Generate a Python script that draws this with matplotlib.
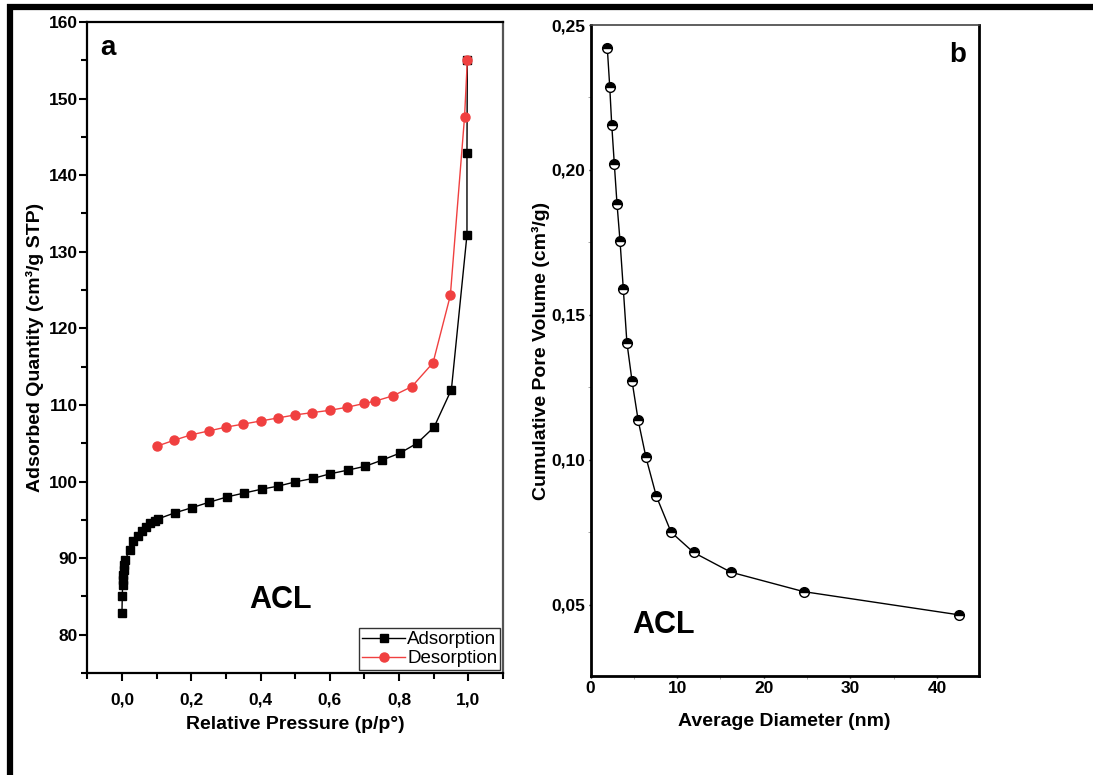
import matplotlib
matplotlib.use("Agg")
import matplotlib.pyplot as plt
from matplotlib.lines import Line2D
from matplotlib.ticker import MultipleLocator, FuncFormatter

plt.rcParams['font.family'] = ['Liberation Sans', 'DejaVu Sans']

# ---- panel a: N2 isotherm -------------------------------------------------
ads_p = [0.0, 0.001, 0.002, 0.003, 0.004, 0.005, 0.006, 0.008,
         0.022, 0.033, 0.045, 0.058, 0.069, 0.082, 0.094, 0.103,
         0.152, 0.203, 0.252, 0.304, 0.353, 0.403, 0.451, 0.500,
         0.551, 0.600, 0.653, 0.703, 0.751, 0.802, 0.852, 0.901,
         0.951, 0.996, 0.996, 0.997]
ads_q = [82.8, 85.1, 86.5, 87.1, 87.8, 88.4, 89.1, 89.7,
         91.0, 92.2, 92.9, 93.6, 94.1, 94.6, 94.9, 95.1,
         95.9, 96.6, 97.3, 98.0, 98.5, 99.0, 99.4, 99.95,
         100.4, 101.0, 101.5, 102.0, 102.8, 103.7, 105.0, 107.1,
         112.0, 132.2, 142.9, 155.0]

des_p = [0.100, 0.151, 0.200, 0.250, 0.300, 0.350, 0.400, 0.450,
         0.500, 0.550, 0.600, 0.650, 0.700, 0.731, 0.783, 0.837,
         0.898, 0.948, 0.989, 0.997]
des_q = [104.6, 105.4, 106.1, 106.6, 107.1, 107.5, 107.9, 108.3,
         108.7, 109.0, 109.3, 109.7, 110.2, 110.5, 111.2, 112.4,
         115.5, 124.3, 147.6, 155.0]

# ---- panel b: cumulative pore volume -------------------------------------
diam = [1.94, 2.22, 2.45, 2.75, 3.06, 3.41, 3.79, 4.2, 4.8, 5.5,
        6.4, 7.6, 9.3, 11.9, 16.2, 24.6, 42.5]
pore_vol = [0.242, 0.2287, 0.2156, 0.2020, 0.1883, 0.1754, 0.1588,
            0.1405, 0.1271, 0.1137, 0.1009, 0.0875, 0.0751, 0.0681,
            0.0613, 0.0546, 0.0466]

W, H = 1093, 775
fig = plt.figure(figsize=(W / 100, H / 100), dpi=100)
fig.patch.set_facecolor('white')


def comma(fmt):
    return FuncFormatter(lambda v, pos: (fmt % v).replace('.', ','))


###############################################################################
# panel a

ax_a = fig.add_axes([87.3 / W, 1 - 673 / H, 415.7 / W, 651 / H])
ax_a.plot(ads_p, ads_q, color='black', lw=1.0, marker='s', ms=6,
          mfc='black', mec='black', label='Adsorption', zorder=3)
ax_a.plot(des_p, des_q, color='#f04040', lw=1.0, marker='o', ms=6.5,
          mfc='#f04040', mec='#f04040', label='Desorption', zorder=4)
ax_a.set_xlim(-0.1, 1.1)
ax_a.set_ylim(75, 160)
ax_a.xaxis.set_major_locator(MultipleLocator(0.2))
ax_a.xaxis.set_minor_locator(MultipleLocator(0.1))
ax_a.yaxis.set_major_locator(MultipleLocator(10))
ax_a.yaxis.set_minor_locator(MultipleLocator(5))
ax_a.xaxis.set_major_formatter(comma('%.1f'))
ax_a.yaxis.set_major_formatter(FuncFormatter(lambda v, pos: '%d' % v))
ax_a.tick_params(which='major', direction='out', length=6, width=1.5,
                 labelsize=12.5, pad=8)
ax_a.tick_params(which='minor', direction='out', length=4, width=1.5)
ax_a.tick_params(axis='y', pad=1)
for lbl in ax_a.get_xticklabels() + ax_a.get_yticklabels():
    lbl.set_fontweight('bold')
for side in ['left', 'bottom', 'top']:
    ax_a.spines[side].set_linewidth(1.6)
ax_a.spines['right'].set_color('#555555')
ax_a.spines['right'].set_linewidth(1.6)
ax_a.set_xlabel('Relative Pressure (p/p°)', fontsize=14, fontweight='bold',
                labelpad=6)
ax_a.set_ylabel('Adsorbed Quantity (cm³/g STP)', fontsize=14,
                fontweight='bold', labelpad=3)
ax_a.text(0.03, 0.96, 'a', transform=ax_a.transAxes, fontsize=20,
          fontweight='bold', ha='left', va='center')
ax_a.text(0.464, 0.112, 'ACL', transform=ax_a.transAxes, fontsize=22,
          fontweight='bold', ha='center', va='center')
leg = ax_a.legend(loc='lower right', fontsize=13.5, frameon=True,
                  fancybox=False, edgecolor='black', borderaxespad=0.15,
                  handlelength=2.3, handletextpad=0.1, borderpad=0.15,
                  labelspacing=0.1)
leg.get_frame().set_linewidth(1.0)

###############################################################################
# panel b

ax_b = fig.add_axes([590.5 / W, 1 - 676 / H, 388.2 / W, 651 / H])
ax_b.plot(diam, pore_vol, color='black', lw=1.0, marker='o', ms=7,
          fillstyle='top', mfc='black', mfcalt='white', mec='black',
          mew=1.0)
ax_b.set_xlim(0, 44.8)
ax_b.set_ylim(0.0255, 0.25)
ax_b.xaxis.set_major_locator(MultipleLocator(10))
ax_b.xaxis.set_minor_locator(MultipleLocator(5))
ax_b.yaxis.set_major_locator(MultipleLocator(0.05))
ax_b.yaxis.set_minor_locator(MultipleLocator(0.025))
ax_b.xaxis.set_major_formatter(FuncFormatter(lambda v, pos: '%d' % v))
ax_b.yaxis.set_major_formatter(comma('%.2f'))
ax_b.tick_params(which='major', direction='out', length=1.5, width=1,
                 labelsize=12.5, pad=2)
ax_b.tick_params(which='minor', direction='out', length=2, width=0.6,
                 color='#999999')
for lbl in ax_b.get_xticklabels() + ax_b.get_yticklabels():
    lbl.set_fontweight('bold')
for side in ['left', 'bottom', 'right']:
    ax_b.spines[side].set_linewidth(2.0)
ax_b.spines['top'].set_color('#444444')
ax_b.spines['top'].set_linewidth(1.2)
ax_b.set_xlabel('Average Diameter (nm)', fontsize=14, fontweight='bold',
                labelpad=12)
ax_b.set_ylabel('Cumulative Pore Volume (cm³/g)', fontsize=14,
                fontweight='bold', labelpad=1)
ax_b.text(0.947, 0.954, 'b', transform=ax_b.transAxes, fontsize=20,
          fontweight='bold', ha='center', va='center')
ax_b.text(0.187, 0.078, 'ACL', transform=ax_b.transAxes, fontsize=22,
          fontweight='bold', ha='center', va='center')

###############################################################################
# outer frame (top and left thick bars)

fig.add_artist(Line2D([7 / W, 1.0], [1 - 7 / H, 1 - 7 / H],
                      transform=fig.transFigure, color='black', lw=4.5,
                      solid_capstyle='butt'))
fig.add_artist(Line2D([10 / W, 10 / W], [1 - 4 / H, 0.0],
                      transform=fig.transFigure, color='black', lw=4.5,
                      solid_capstyle='butt'))

fig.savefig('out.png', dpi=100, facecolor='white')
